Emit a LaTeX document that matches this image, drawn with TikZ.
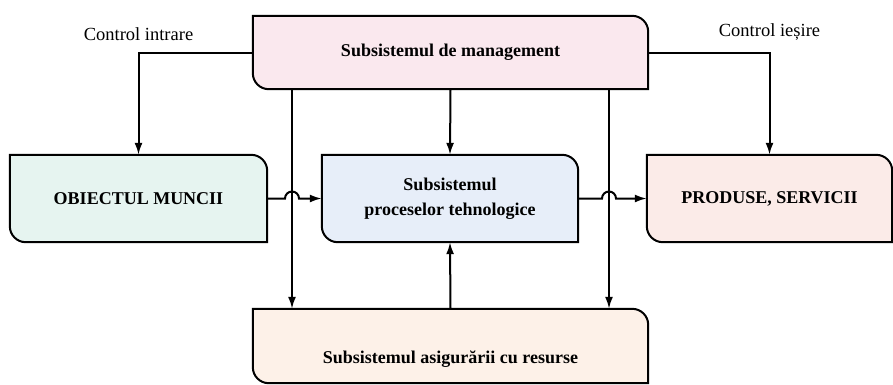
\documentclass[tikz,border=0pt]{standalone}
\usepackage{fontspec}
\setmainfont{Liberation Serif}
\usetikzlibrary{arrows.meta,backgrounds}

\definecolor{mgmtfill}{RGB}{250,232,238}
\definecolor{objfill}{RGB}{230,244,240}
\definecolor{procfill}{RGB}{231,238,249}
\definecolor{prodfill}{RGB}{251,235,232}
\definecolor{resfill}{RGB}{253,241,232}

% outline with rounded top right and bottom left corners
\newcommand{\halfround}[2]{%
  \filldraw[fill=#2, line width=2pt] (#1.north west) -- ([xshift=-16pt]#1.north east)
    arc[start angle=90, end angle=0, radius=16pt] -- (#1.south east)
    -- ([xshift=16pt]#1.south west) arc[start angle=270, end angle=180, radius=16pt] -- cycle;}

\begin{document}
\begin{tikzpicture}[x=1pt, y=-1pt, >={Latex[length=12pt,width=8pt]},
    subsystem/.style ={inner sep=0pt, align=center, font=\fontsize{18}{25}\selectfont\bfseries},
    connector/.style ={line width=2pt},
    ctrllabel/.style ={inner sep=0pt, font=\fontsize{18.5}{22}\selectfont}]
   \useasboundingbox (0,0) rectangle (893,384);
   \node[subsystem, minimum width=395pt, minimum height=73pt] (mgmt) at (450.5,52.5) {Subsistemul de management};
   \node[subsystem, minimum width=257pt, minimum height=87pt] (obj)  at (138.5,198.5) {OBIECTUL MUNCII};
   \node[subsystem, minimum width=256pt, minimum height=87pt] (proc) at (450,198.5) {Subsistemul\\proceselor tehnologice};
   \node[subsystem, minimum width=245pt, minimum height=87pt] (prod) at (769.5,198.5) {PRODUSE, SERVICII};
   \node[subsystem, minimum width=395pt, minimum height=74pt] (res)  at (450.5,346)
     {\raisebox{-17pt}[0pt][0pt]{Subsistemul asigurării cu resurse}};
   \coordinate (vl) at (292,0);
   \coordinate (vr) at (609,0);
   \begin{scope}[on background layer]
     \halfround{mgmt}{mgmtfill}
     \halfround{obj}{objfill}
     \halfround{proc}{procfill}
     \halfround{prod}{prodfill}
     \halfround{res}{resfill}
   \end{scope}
   \draw[connector, ->] (mgmt.west) -| node[ctrllabel, above=11pt] (cin) {Control intrare} (obj.north);
   \draw[connector, ->] (mgmt.east) -| node[ctrllabel, above=11pt] (cout) {Control ieșire} (prod.north);
   \draw[connector, ->] (mgmt.south) -- (proc.north);
   \draw[connector, ->] (res.north) -- (proc.south);
   \draw[connector, ->] (vl |- mgmt.south) -- (vl |- res.north);
   \draw[connector, ->] (vr |- mgmt.south) -- (vr |- res.north);
   \draw[connector, ->] (obj.east) -- ([xshift=-7pt]vl |- obj.east)
     arc[start angle=180, end angle=0, radius=7pt] -- (proc.west);
   \draw[connector, ->] (proc.east) -- ([xshift=-7pt]vr |- proc.east)
     arc[start angle=180, end angle=0, radius=7pt] -- (prod.west);
 \end{tikzpicture}
\end{document}
